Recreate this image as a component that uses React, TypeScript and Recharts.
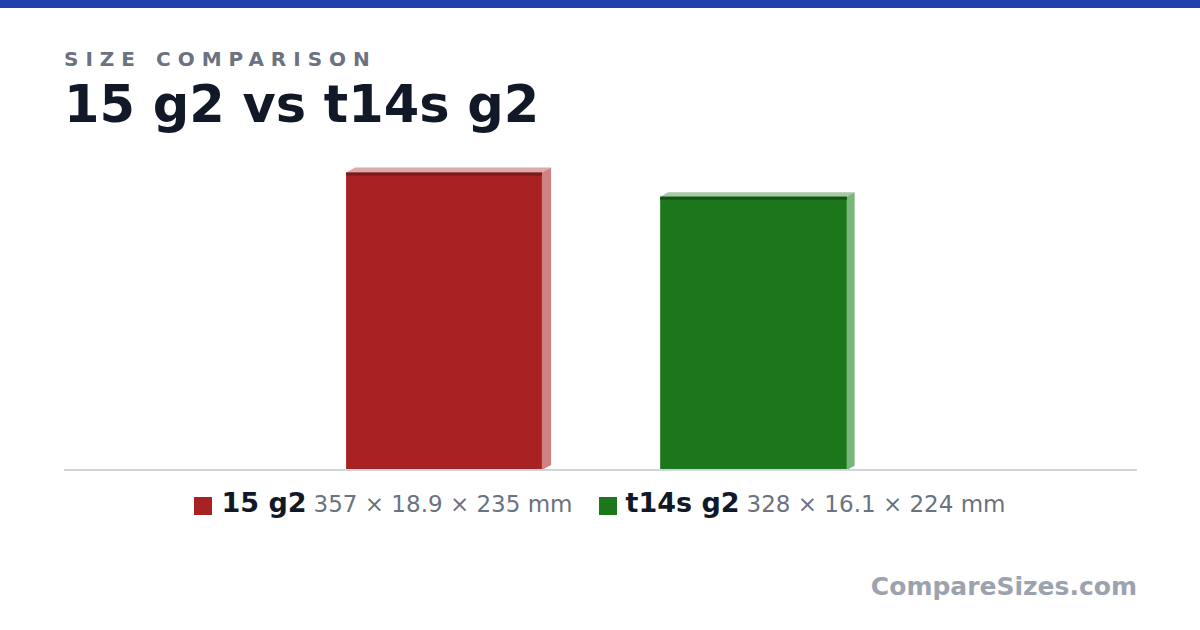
import { BarChart, Bar, XAxis, YAxis, ReferenceLine } from 'recharts';

// devices compared, and their outer size in mm (width x thickness x depth)
const devices = ['15 g2', 't14s g2'];
const widthsMm = [357, 328];
const thicknessMm = [18.9, 16.1];
const depthsMm = [235, 224];
const dimLabels = ['357 × 18.9 × 235 mm', '328 × 16.1 × 224 mm'];

const palette = [
  { front: '#a82224', band: '#7a1a1a', top: '#dea9a9', side: '#d08181' },
  { front: '#1c771c', band: '#125212', top: '#a6c9a6', side: '#7ab57a' },
];

const data = devices.map((name, i) => ({
  name,
  width: widthsMm[i],
  thickness: thicknessMm[i],
  depth: depthsMm[i],
  idx: i,
}));

const FONT = '"DejaVu Sans", sans-serif';

// front face is width x depth, thickness becomes the 3D extrusion
const Box3D = (props: any) => {
  const { x, y, width, height, payload } = props;
  if (!payload || !height) return null;
  const k = height / payload.width;
  const frontW = payload.depth * k;
  const fx = x + width / 2 - frontW / 2;
  const dx = payload.thickness * k * 0.58;
  const dy = dx * 0.56;
  const c = palette[payload.idx];
  const bottom = y + height;
  return (
    <g>
      <polygon
        points={`${fx},${y} ${fx + dx},${y - dy} ${fx + frontW + dx},${y - dy} ${fx + frontW},${y}`}
        fill={c.top}
      />
      <polygon
        points={`${fx + frontW},${y} ${fx + frontW + dx},${y - dy} ${fx + frontW + dx},${bottom - dy} ${fx + frontW},${bottom}`}
        fill={c.side}
      />
      <rect x={fx} y={y} width={frontW} height={height} fill={c.front} />
      <rect x={fx} y={y} width={frontW} height={3} fill={c.band} />
    </g>
  );
};

const App = () => {
  return (
    <div
      style={{
        position: 'absolute',
        left: 0,
        top: 0,
        width: 1200,
        height: 630,
        background: '#fff',
        fontFamily: FONT,
        overflow: 'hidden',
      }}
    >
      <div style={{ position: 'absolute', left: 0, top: 0, width: 1200, height: 8, background: '#1e40af' }} />
      <div
        style={{
          position: 'absolute',
          left: 64,
          top: 49,
          fontSize: 20,
          lineHeight: 1,
          fontWeight: 700,
          letterSpacing: 7,
          color: '#6b7280',
        }}
      >
        SIZE COMPARISON
      </div>
      <div
        style={{
          position: 'absolute',
          left: 64,
          top: 79,
          fontSize: 51,
          lineHeight: 1,
          fontWeight: 700,
          color: '#111827',
        }}
      >
        15 g2 vs t14s g2
      </div>

      <div style={{ position: 'absolute', left: 0, top: 0 }}>
        <BarChart
          width={1200}
          height={630}
          data={data}
          margin={{ top: 120, right: 63, bottom: 160, left: 64 }}
          barCategoryGap={0}
        >
          <XAxis
            dataKey="name"
            tick={false}
            tickLine={false}
            axisLine={false}
            height={0}
            padding={{ left: 225, right: 229 }}
          />
          <YAxis hide domain={[0, 420]} />
          <ReferenceLine y={0} stroke="#d1d5db" strokeWidth={2} />
          <Bar dataKey="width" shape={<Box3D />} isAnimationActive={false} />
        </BarChart>
      </div>

      <div
        style={{
          position: 'absolute',
          left: 0,
          top: 489,
          width: 1200,
          display: 'flex',
          justifyContent: 'center',
          alignItems: 'baseline',
          lineHeight: 1,
        }}
      >
        {devices.map((name, i) => (
          <div key={name} style={{ display: 'flex', alignItems: 'baseline', marginLeft: i === 0 ? 0 : 26 }}>
            <span
              style={{
                display: 'inline-block',
                width: 18,
                height: 18,
                position: 'relative',
                top: 3,
                marginRight: 9,
                background: palette[i].front,
              }}
            />
            <span style={{ fontSize: 27, fontWeight: 700, color: '#111827' }}>{name}</span>
            <span style={{ fontSize: 23, color: '#6b7280', marginLeft: 7 }}>{dimLabels[i]}</span>
          </div>
        ))}
      </div>

      <div
        style={{
          position: 'absolute',
          right: 63,
          top: 574,
          fontSize: 25,
          lineHeight: 1,
          fontWeight: 700,
          color: '#9ca3af',
        }}
      >
        CompareSizes.com
      </div>
    </div>
  );
};

export default App;
